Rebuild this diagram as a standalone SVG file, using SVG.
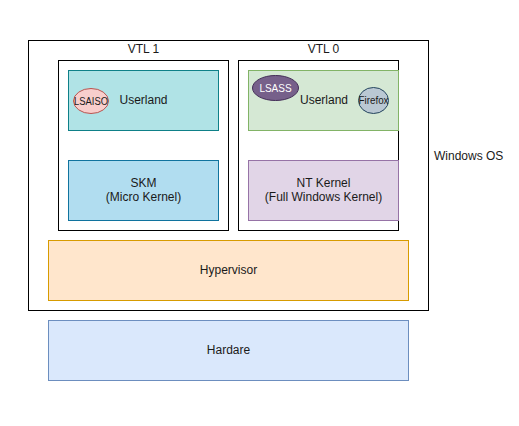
<svg xmlns="http://www.w3.org/2000/svg" width="519" height="426" viewBox="0 0 519 426">
<style>
text{font-family:"Liberation Sans",Arial,sans-serif;font-size:12px;fill:#1a1a1a;text-anchor:middle;dominant-baseline:central}
.frame{fill:#ffffff;stroke:#000000;stroke-width:1}
.small{font-size:10px}
</style>
<rect width="519" height="426" fill="#ffffff"/>
<g id="windows-os">
<rect class="frame" x="28.5" y="40.5" width="400" height="270"/>
<text x="434" y="156" style="text-anchor:start">Windows OS</text>
</g>
<g id="vtl1">
<rect class="frame" x="58.5" y="60.5" width="170" height="170"/>
<text x="143.5" y="49">VTL 1</text>
</g>
<g id="vtl0">
<rect class="frame" x="238.5" y="60.5" width="160" height="170"/>
<text x="323.5" y="49">VTL 0</text>
</g>
<g id="userland1">
<rect x="68.5" y="70.5" width="150" height="60" fill="#b0e3e6" stroke="#0e8088"/>
<text x="143.5" y="100">Userland</text>
</g>
<g id="lsaiso">
<ellipse cx="91" cy="101" rx="17.5" ry="12.5" fill="#f8cecc" stroke="#b85450"/>
<text class="small" x="91" y="101" textLength="34" lengthAdjust="spacingAndGlyphs">LSAISO</text>
</g>
<g id="skm">
<rect x="68.5" y="160.5" width="150" height="60" fill="#b1ddf0" stroke="#10739e"/>
<text x="143.5" y="183">SKM</text>
<text x="143.5" y="197">(Micro Kernel)</text>
</g>
<g id="userland0">
<rect x="248.5" y="70.5" width="150" height="60" fill="#d5e8d4" stroke="#82b366"/>
<text x="324" y="100">Userland</text>
</g>
<g id="lsass">
<ellipse cx="275.5" cy="88" rx="23" ry="12.5" fill="#76608a" stroke="#432d57"/>
<text class="small" x="275.5" y="88" style="fill:#ffffff">LSASS</text>
</g>
<g id="firefox">
<ellipse cx="373.5" cy="100.5" rx="15" ry="13" fill="#bac8d3" stroke="#23445d"/>
<text class="small" x="373.5" y="100.5" textLength="30" lengthAdjust="spacingAndGlyphs">Firefox</text>
</g>
<g id="nt-kernel">
<rect x="248.5" y="160.5" width="150" height="60" fill="#e1d5e7" stroke="#9673a6"/>
<text x="323.5" y="183">NT Kernel</text>
<text x="323.5" y="197">(Full Windows Kernel)</text>
</g>
<g id="hypervisor">
<rect x="48.5" y="240.5" width="360" height="60" fill="#ffe6cc" stroke="#d79b00"/>
<text x="228.5" y="270">Hypervisor</text>
</g>
<g id="hardware">
<rect x="48.5" y="320.5" width="360" height="60" fill="#dae8fc" stroke="#6c8ebf"/>
<text x="228.5" y="350">Hardare</text>
</g>
<g id="connectors"/>
</svg>
